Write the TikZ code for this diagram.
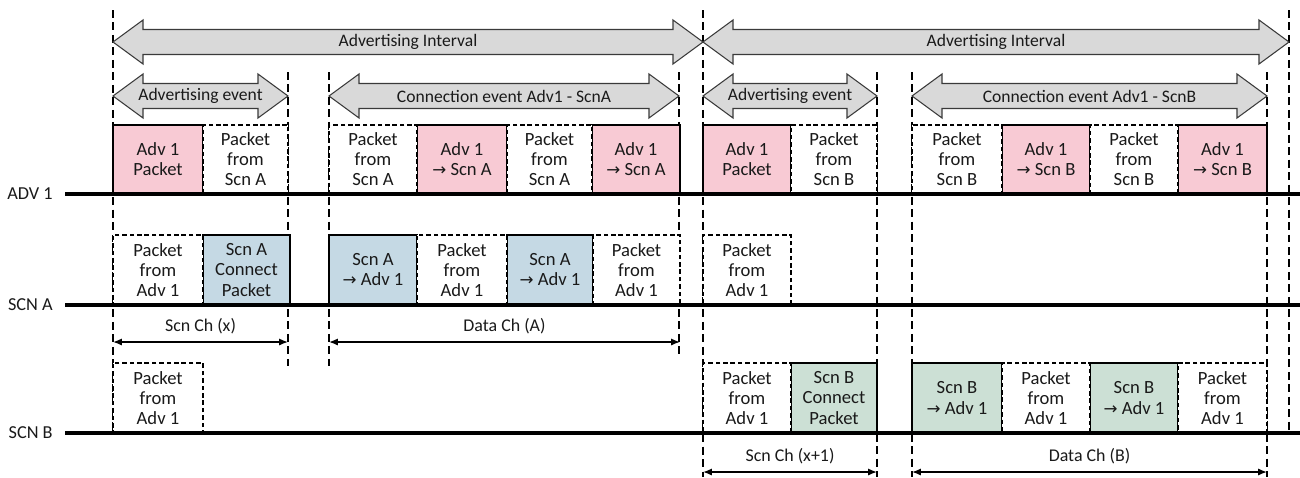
\documentclass[tikz,border=0pt]{standalone}
\usepackage{fontspec}
\setmainfont{Carlito}
\newfontfamily\symfont{DejaVu Sans}
\usetikzlibrary{arrows.meta}

\definecolor{pinkbox}{HTML}{F8CAD4}
\definecolor{bluebox}{HTML}{C5D9E4}
\definecolor{greenbox}{HTML}{CCE0D5}
\definecolor{bandfill}{HTML}{D9D9D9}
\definecolor{bandline}{HTML}{3A3A3A}
\definecolor{txt}{HTML}{1A1A1A}

\newcommand\arr{{\symfont\fontsize{9.5}{10}\selectfont →}}

\tikzset{
  guide/.style={line width=1.2pt, dash pattern=on 4.5pt off 2.6pt},
  timeline/.style={line width=2.4pt, line cap=butt},
  band/.style={fill=bandfill, draw=bandline, line width=0.6pt, line join=miter},
  bandlabel/.style={text=txt, inner sep=0pt, font=\fontsize{10}{12}\selectfont},
  pktbase/.style={inner sep=0pt, outer sep=0pt, align=center, text=txt,
    font=\fontsize{10.6}{11.4}\selectfont},
  colpkt/.style={pktbase, draw=black, line width=0.6pt},
  advpkt/.style={colpkt, fill=pinkbox},
  scapkt/.style={colpkt, fill=bluebox},
  scbpkt/.style={colpkt, fill=greenbox},
  emptypkt/.style={pktbase, fill=white, draw=black, line width=0.6pt, dash pattern=on 2.6pt off 1.6pt},
  rowlabel/.style={anchor=east, inner sep=0pt, text=txt, font=\fontsize{10.4}{12}\selectfont},
  dimline/.style={line width=0.8pt, {Latex[length=5pt,width=4pt]}-{Latex[length=5pt,width=4pt]}},
  dimlabel/.style={above=4pt, inner sep=0pt, text=txt, font=\fontsize{10.2}{12}\selectfont}
}

% packet box: name, style, x-left, x-right, y-top, y-bottom, text
\newcommand\pkt[7]{%
  \node[#2, minimum width={(#4-#3)*0.02cm}, minimum height={(#6-#5)*0.02cm}]
    (#1) at ({(#3+#4)/2},{(#5+#6)/2}) {#7};}

% wide double-headed band: name, x-left, x-right, y-centre, label
\newcommand\bandarrow[5]{%
  \draw[band] (#2,#4) -- ({#2+30},{#4-22}) -- ({#2+30},{#4-12.5})
    -- ({#3-30},{#4-12.5}) -- ({#3-30},{#4-22}) -- (#3,#4)
    -- ({#3-30},{#4+22}) -- ({#3-30},{#4+12.5}) -- ({#2+30},{#4+12.5})
    -- ({#2+30},{#4+22}) -- cycle;
  \node[bandlabel] (#1) at ({(#2+#3)/2},#4) {#5};}

\begin{document}
\begin{tikzpicture}[x=0.02cm,y=-0.02cm]
\useasboundingbox (0,0) rectangle (1300,477);

% vertical timing guides
\coordinate (g1t) at (113,10);   \coordinate (g1b) at (113,433);
\coordinate (g2t) at (288,72);   \coordinate (g2b) at (288,366);
\coordinate (g3t) at (329,72);   \coordinate (g3b) at (329,366);
\coordinate (g4t) at (679,72);   \coordinate (g4b) at (679,358);
\coordinate (g5t) at (703,10);   \coordinate (g5b) at (703,477);
\coordinate (g6t) at (877,72);   \coordinate (g6b) at (877,477);
\coordinate (g7t) at (912,72);   \coordinate (g7b) at (912,477);
\coordinate (g8t) at (1267,72);  \coordinate (g8b) at (1267,477);
\coordinate (g9t) at (1289,10);  \coordinate (g9b) at (1289,433);
\foreach \g in {g1,g2,g3,g4,g5,g6,g7,g8,g9}
  \draw[guide] (\g t) -- (\g b);

% interval and event bands
\bandarrow{ai1}{113}{703}{42}{Advertising Interval}
\bandarrow{ai2}{703}{1289}{42}{Advertising Interval}
\bandarrow{ae1}{113}{288}{96}{Advertising event}
\bandarrow{ce1}{329}{679}{96}{Connection event Adv1 - ScnA}
\bandarrow{ae2}{703}{877}{96}{Advertising event}
\bandarrow{ce2}{912}{1267}{96}{Connection event Adv1 - ScnB}

% ADV 1 transmissions
\pkt{a1}{advpkt}{113}{203}{125}{194}{Adv 1\\Packet}
\pkt{a4}{advpkt}{417}{507}{125}{194}{Adv 1\\\arr{} Scn A}
\pkt{a6}{advpkt}{592}{680}{125}{194}{Adv 1\\\arr{} Scn A}
\pkt{a7}{advpkt}{703}{791}{125}{194}{Adv 1\\Packet}
\pkt{a10}{advpkt}{1002}{1090}{125}{194}{Adv 1\\\arr{} Scn B}
\pkt{a12}{advpkt}{1178}{1267}{125}{194}{Adv 1\\\arr{} Scn B}
% ADV 1 receptions
\pkt{a2}{emptypkt}{203}{288}{125}{194}{Packet\\from\\Scn A}
\pkt{a3}{emptypkt}{329}{417}{125}{194}{Packet\\from\\Scn A}
\pkt{a5}{emptypkt}{507}{592}{125}{194}{Packet\\from\\Scn A}
\pkt{a8}{emptypkt}{791}{877}{125}{194}{Packet\\from\\Scn B}
\pkt{a9}{emptypkt}{912}{1002}{125}{194}{Packet\\from\\Scn B}
\pkt{a11}{emptypkt}{1090}{1178}{125}{194}{Packet\\from\\Scn B}

% SCN A
\pkt{b2}{scapkt}{203}{290}{235}{305}{Scn A\\Connect\\Packet}
\pkt{b3}{scapkt}{329}{417}{235}{305}{Scn A\\\arr{} Adv 1}
\pkt{b5}{scapkt}{507}{593}{235}{305}{Scn A\\\arr{} Adv 1}
\pkt{b1}{emptypkt}{113}{203}{235}{305}{Packet\\from\\Adv 1}
\pkt{b4}{emptypkt}{417}{507}{235}{305}{Packet\\from\\Adv 1}
\pkt{b6}{emptypkt}{593}{680}{235}{305}{Packet\\from\\Adv 1}
\pkt{b7}{emptypkt}{703}{791}{235}{305}{Packet\\from\\Adv 1}

% SCN B
\pkt{c3}{scbpkt}{791}{877}{363}{433}{Scn B\\Connect\\Packet}
\pkt{c4}{scbpkt}{912}{1002}{363}{433}{Scn B\\\arr{} Adv 1}
\pkt{c6}{scbpkt}{1090}{1178}{363}{433}{Scn B\\\arr{} Adv 1}
\pkt{c1}{emptypkt}{113}{203}{363}{433}{Packet\\from\\Adv 1}
\pkt{c2}{emptypkt}{703}{791}{363}{433}{Packet\\from\\Adv 1}
\pkt{c5}{emptypkt}{1002}{1090}{363}{433}{Packet\\from\\Adv 1}
\pkt{c7}{emptypkt}{1178}{1267}{363}{433}{Packet\\from\\Adv 1}

% device timelines
\node[rowlabel] (lA1) at (53,194) {ADV 1};
\node[rowlabel] (lSA) at (53,305) {SCN A};
\node[rowlabel] (lSB) at (53,433) {SCN B};
\coordinate (tA1) at (1300,194);
\coordinate (tSA) at (1300,305);
\coordinate (tSB) at (1300,433);
\draw[timeline] ([xshift=7pt]lA1.east) -- (tA1);
\draw[timeline] ([xshift=7pt]lSA.east) -- (tSA);
\draw[timeline] ([xshift=7pt]lSB.east) -- (tSB);

% channel spans
\coordinate (d1a) at (113,342);  \coordinate (d1b) at (288,342);
\coordinate (d2a) at (329,342);  \coordinate (d2b) at (680,342);
\coordinate (d3a) at (703,472);  \coordinate (d3b) at (877,472);
\coordinate (d4a) at (912,472);  \coordinate (d4b) at (1267,472);
\draw[dimline] (d1a) -- node[dimlabel] (n1) {Scn Ch (x)} (d1b);
\draw[dimline] (d2a) -- node[dimlabel] (n2) {Data Ch (A)} (d2b);
\draw[dimline] (d3a) -- node[dimlabel] (n3) {Scn Ch (x+1)} (d3b);
\draw[dimline] (d4a) -- node[dimlabel] (n4) {Data Ch (B)} (d4b);
\end{tikzpicture}
\end{document}
